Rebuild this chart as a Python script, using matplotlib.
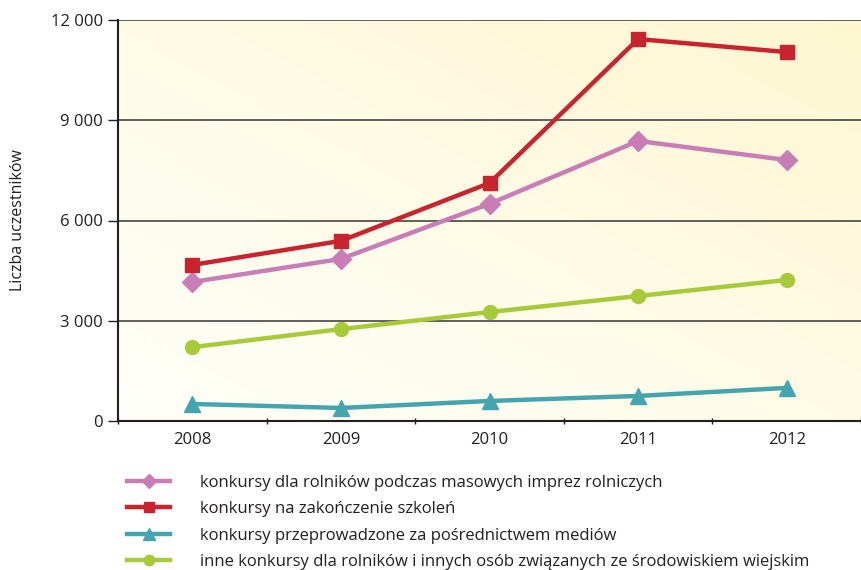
import matplotlib.pyplot as plt
import numpy as np
from matplotlib.ticker import FuncFormatter

plt.rcParams['font.family'] = ['Open Sans', 'DejaVu Sans']

lata = ['2008', '2009', '2010', '2011', '2012']
imprezy = [4160, 4850, 6500, 8380, 7810]
szkolenia = [4670, 5390, 7120, 11430, 11040]
media = [510, 390, 600, 750, 990]
inne = [2210, 2750, 3260, 3740, 4220]

etykiety = ['konkursy dla rolników podczas masowych imprez rolniczych',
            'konkursy na zakończenie szkoleń',
            'konkursy przeprowadzone za pośrednictwem mediów',
            'inne konkursy dla rolników i innych osób związanych ze środowiskiem wiejskim']
kolory = ['#C87DB6', '#C9232D', '#44A4AF', '#A6CA38']
znaczniki = ['D', 's', '^', 'o']
rozmiary = [10, 10, 11, 10]


def tysiace(v, pos):
    return '{:,.0f}'.format(v).replace(',', ' ')


fig = plt.figure(figsize=(8.61, 5.70), dpi=100)
ax = fig.add_axes([118 / 861, 1 - 421 / 570, 1 - 118 / 861, 401 / 570])

# tlo z gradientem
n = 200
gx, gy = np.meshgrid(np.linspace(0, 1, n), np.linspace(0, 1, n))
t = (gx + gy) / 2
c0 = np.array([1.0, 1.0, 0.98])
c1 = np.array([0.995, 0.968, 0.82])
img = c0[None, None, :] * (1 - t[..., None]) + c1[None, None, :] * t[..., None]
ax.imshow(img, extent=[0, 1, 0, 1], origin='lower', transform=ax.transAxes,
          aspect='auto', zorder=0)

x = np.arange(len(lata))
linie = []
for y, k, m, r, e in zip([imprezy, szkolenia, media, inne], kolory, znaczniki, rozmiary, etykiety):
    l, = ax.plot(x, y, color=k, lw=3.2, marker=m, markersize=r, label=e, zorder=3)
    linie.append(l)

ax.set_xlim(-0.5, 4.46)
ax.set_ylim(0, 12000)
ax.set_yticks([0, 3000, 6000, 9000, 12000])
ax.yaxis.set_major_formatter(FuncFormatter(tysiace))
ax.set_xticks(x)
ax.set_xticklabels(lata)
ax.set_xticks(np.arange(-0.5, 4.6, 1), minor=True)
ax.tick_params(axis='x', which='major', length=0, pad=8, labelsize=12, colors='#231F20')
ax.tick_params(axis='x', which='minor', length=5, width=1, direction='inout', color='#231F20')
ax.tick_params(axis='y', length=7, width=1, direction='out', labelsize=12, pad=4, colors='#231F20')
ax.grid(axis='y', color='#444444', lw=1.2, zorder=1)
ax.set_axisbelow(True)
for s in ['top', 'right']:
    ax.spines[s].set_visible(False)
for s in ['left', 'bottom']:
    ax.spines[s].set_color('#231F20')
    ax.spines[s].set_linewidth(1.5)

fig.text(18 / 861, 1 - 220 / 570, 'Liczba uczestników', rotation=90, ha='center', va='center',
         fontsize=11.5, color='#231F20')

fig.legend(handles=linie, loc='upper left', bbox_to_anchor=(112 / 861, 1 - 460 / 570),
           frameon=False, fontsize=12, handlelength=2.6, labelspacing=0.62,
           handletextpad=1.8, markerscale=0.75, labelcolor='#231F20')

plt.savefig('out.png', dpi=100)
